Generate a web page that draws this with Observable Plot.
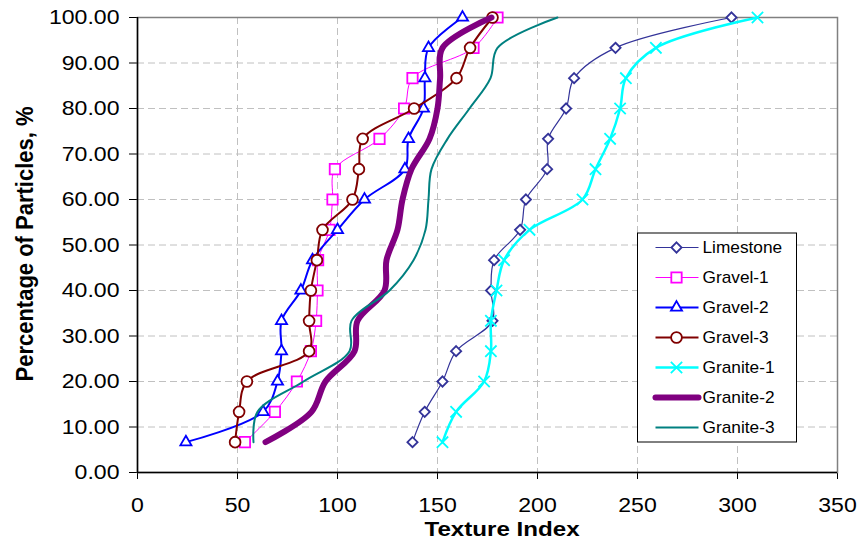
<!DOCTYPE html>
<html><head><meta charset="utf-8">
<script src="https://cdn.jsdelivr.net/npm/d3@7"></script>
<script src="https://cdn.jsdelivr.net/npm/@observablehq/plot@0.6"></script>
<style>
body{margin:0;background:#fff;}
#chart{width:859px;height:546px;}
</style></head><body><div id="chart"></div>
<script>
// ---- data ----
const levels = [6.67, 13.33, 20, 26.67, 33.33, 40, 46.67, 53.33, 60, 66.67, 73.33, 80, 86.67, 93.33, 100];
const seriesNames = ["Limestone", "Gravel-1", "Gravel-2", "Gravel-3", "Granite-1", "Granite-2", "Granite-3"];
const limestone = [137.5, 143.6, 152.5, 159.3, 177.5, 176.8, 178.3, 191.3, 194.2, 204.8, 205.3, 214.3, 218.3, 239, 297];
const gravel1   = [53.7, 68.7, 79.7, 86.7, 89.3, 90, 90.3, 96, 97.5, 98.7, 121, 133.3, 137.5, 168, 180];
const gravel2   = [24.2, 62.8, 70, 72, 72, 81.7, 87.5, 100, 113.5, 133.7, 135.5, 143, 143.7, 145.5, 162.5];
const gravel3   = [48.8, 50.8, 54.7, 85.8, 85.8, 86.7, 89.7, 92.5, 107.5, 110.7, 112.6, 138.3, 159.5, 166.3, 177.5];
const granite1  = [152.5, 159.3, 173.3, 176.7, 176.7, 179.5, 183.3, 196, 222.5, 229, 236.3, 241.3, 244.2, 259.2, 310];
const granite2  = [64, 87, 94, 108.5, 110, 123.5, 124.5, 130, 132.5, 137, 146, 150, 151.3, 152.5, 177];
const granite3  = [58, 60, 83, 106, 107, 126, 138, 144, 145.5, 147, 155, 166, 176.5, 180, 210];
const xTicks = [0, 50, 100, 150, 200, 250, 300, 350];
const yTicks = [0, 10, 20, 30, 40, 50, 60, 70, 80, 90, 100];
const xTitle = "Texture Index";
const yTitle = "Percentage of Particles, %";

// ---- styles ----
const seriesValues = [limestone, gravel1, gravel2, gravel3, granite1, granite2, granite3];
const styles = [
  {color: "#333399", width: 1.2, symbol: "diamond2", r: 4.6},
  {color: "#FF00FF", width: 1, symbol: "square2", r: 6.6},
  {color: "#0000FF", width: 2, symbol: "triangle2", r: 5.3},
  {color: "#800000", width: 2, symbol: "circle", r: 5.4},
  {color: "#00FFFF", width: 2.5, symbol: "times", r: 5.2},
  {color: "#800080", width: 6, symbol: null},
  {color: "#008080", width: 2, symbol: null}
];

const marks = [
  Plot.ruleX(xTicks.slice(1, -1), {stroke: "#c0c0c0", strokeDasharray: "7,4", strokeWidth: 1}),
  Plot.ruleY(yTicks.slice(1, -1), {stroke: "#c0c0c0", strokeDasharray: "7,4", strokeWidth: 1}),
  Plot.frame({stroke: "#808080", strokeWidth: 1.5}),
  Plot.ruleX([0], {stroke: "#000", strokeWidth: 1.5}),
  Plot.ruleY([0], {stroke: "#000", strokeWidth: 1.5})
];
seriesNames.forEach((name, k) => {
  const rows = seriesValues[k].map((x, i) => ({name, x, y: levels[i]}));
  const st = styles[k];
  marks.push(Plot.line(rows, {x: "x", y: "y", stroke: st.color, strokeWidth: st.width, curve: "catmull-rom", strokeLinecap: "round", strokeLinejoin: "round"}));
  if (st.symbol) marks.push(Plot.dot(rows, {x: "x", y: "y", symbol: () => st.symbol, r: st.r, stroke: st.color, fill: "white", strokeWidth: 1.8}));
});

const fontFam = "'Liberation Sans', Arial, sans-serif";
const plot = Plot.plot({
  width: 859, height: 546,
  marginLeft: 137, marginRight: 22, marginTop: 17, marginBottom: 74,
  style: {fontFamily: fontFam, fontSize: "21px", color: "#000", background: "#fff"},
  x: {domain: [0, 350], ticks: xTicks, tickSize: 7, tickPadding: 18, label: null},
  y: {domain: [0, 100], ticks: yTicks, tickSize: 8, tickPadding: 10, tickFormat: d3.format(".2f"), label: null},
  symbol: {type: "identity"},
  marks
});
document.getElementById("chart").appendChild(plot);

// horizontal stretch of tick labels around their anchor (wrap each text in a g)
function stretch(t, s) {
  const bb = t.getBBox();
  const anchor = getComputedStyle(t).textAnchor;
  const ax = anchor === "end" ? bb.x + bb.width : anchor === "middle" ? bb.x + bb.width / 2 : bb.x;
  let A = ax;
  const tl = t.transform && t.transform.baseVal;
  if (tl && tl.numberOfItems) {
    const m = tl.consolidate().matrix;
    A = m.a * ax + m.e;
  }
  const g = document.createElementNS("http://www.w3.org/2000/svg", "g");
  g.setAttribute("transform", `translate(${A},0) scale(${s},1) translate(${-A},0)`);
  t.parentNode.insertBefore(g, t);
  g.appendChild(t);
}
Array.from(plot.querySelectorAll("text")).forEach(t => stretch(t, 1.1));

const svg = d3.select(plot);
// axis titles
svg.append("text").text(xTitle)
  .attr("transform", "translate(502,536) scale(1.15,1)")
  .attr("text-anchor", "middle").attr("font-weight", "bold").attr("font-size", 21).attr("font-family", fontFam);
svg.append("text").text(yTitle)
  .attr("transform", "translate(33,244) scale(1.1,1) rotate(-90)")
  .attr("text-anchor", "middle").attr("font-weight", "bold").attr("font-size", 22).attr("font-family", fontFam);

// legend
const symMap = {diamond2: d3.symbolDiamond2, square2: d3.symbolSquare2, triangle2: d3.symbolTriangle2, times: d3.symbolTimes};
const lg = svg.append("g").attr("transform", "translate(637.5,233)");
lg.append("rect").attr("width", 159).attr("height", 209).attr("fill", "white").attr("stroke", "#000").attr("stroke-width", 1);
seriesNames.forEach((name, k) => {
  const st = styles[k];
  const row = lg.append("g").attr("transform", `translate(0,${14.5 + 30 * k})`);
  row.append("line").attr("x1", 18).attr("x2", 61).attr("stroke", st.color).attr("stroke-width", st.width).attr("stroke-linecap", st.width > 3 ? "round" : "butt");
  if (st.symbol) {
    if (st.symbol === "circle") {
      row.append("circle").attr("cx", 39).attr("r", st.r).attr("fill", "white").attr("stroke", st.color).attr("stroke-width", 1.8);
    } else {
      row.append("path").attr("transform", "translate(39,0)").attr("d", d3.symbol(symMap[st.symbol], Math.PI * st.r * st.r)()).attr("fill", "white").attr("stroke", st.color).attr("stroke-width", 1.8);
    }
  }
  row.append("text").text(name).attr("transform", "translate(65,0) scale(1.08,1)")
    .attr("text-anchor", "start").attr("dy", "0.35em").attr("font-size", 16).attr("font-family", fontFam).attr("fill", "#000");
});
</script></body></html>
